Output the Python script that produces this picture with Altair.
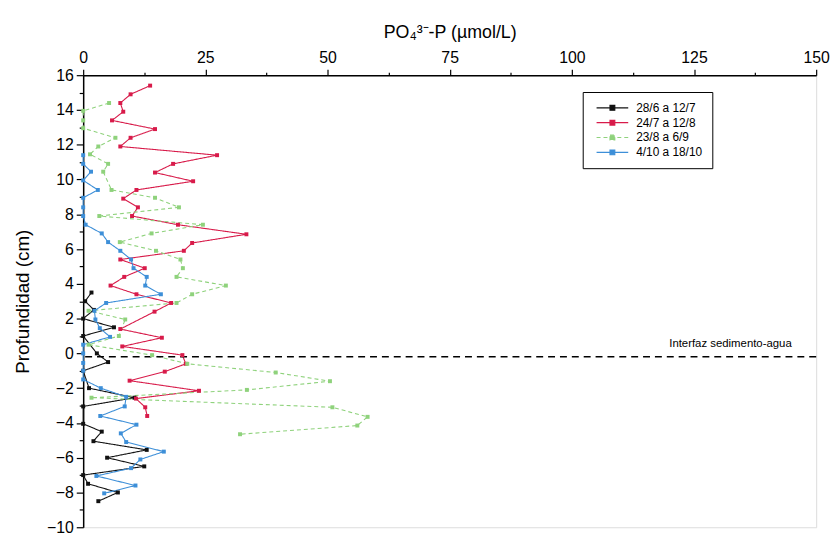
import altair as alt
import pandas as pd

# ---------------- data ----------------
series_names = ["28/6 a 12/7", "24/7 a 12/8", "23/8 a 6/9", "4/10 a 18/10"]
series_colors = ["#111111", "#d81b4a", "#8fd27c", "#3d8fd8"]

black_x = [1.7, 0.4, 2.2, 0.0, 6.3, 0.0, 2.8, 5.1, 0.0, 1.2, 10.5, 0.0, 0.0, 3.8,
           2.1, 13.0, 4.9, 12.5, 0.0, 1.0, 7.1, 3.1]
black_y = [3.5, 3.0, 2.5, 2.0, 1.5, 1.0, 0.0, -0.5, -1.0, -2.0, -2.55, -3.05, -4.05, -4.5,
           -5.05, -5.55, -6.0, -6.5, -7.0, -7.5, -8.0, -8.5]

red_x = [13.7, 9.7, 7.6, 8.2, 5.9, 14.7, 9.7, 7.6, 27.4, 18.4, 14.7, 22.5, 10.9, 8.2,
         11.2, 10.0, 19.4, 33.4, 22.3, 20.6, 7.6, 12.6, 8.4, 5.6, 10.9, 18.0, 14.6, 7.6,
         16.1, 8.0, 20.3, 21.0, 16.7, 9.5, 23.7, 10.8, 12.7, 13.1]
red_y = [15.4, 14.9, 14.4, 13.9, 13.4, 12.9, 12.4, 11.9, 11.4, 10.9, 10.4, 9.9, 9.4, 8.9,
         8.4, 7.9, 7.4, 6.85, 6.35, 5.9, 5.4, 4.9, 4.4, 3.9, 3.4, 2.9, 2.4, 1.4,
         0.9, 0.4, -0.1, -0.6, -1.05, -1.57, -2.15, -2.6, -3.1, -3.6]

green_x = [5.3, 0.0, 0.0, 0.0, 6.6, 3.1, 1.4, 5.1, 4.1, 5.8, 14.7, 19.6, 3.3, 24.5,
           14.0, 7.5, 14.9, 19.9, 20.4, 19.1, 29.2, 22.3, 19.1, 1.1, 8.6, 7.3, 1.1,
           14.1, 21.3, 39.4, 50.5, 33.5, 1.7, 51.0, 58.2, 56.1, 32.1]
green_y = [14.4, 13.95, 13.4, 12.95, 12.4, 11.9, 11.45, 10.9, 10.45, 9.4, 8.95, 8.4, 7.9, 7.4,
           6.9, 6.4, 5.9, 5.4, 4.9, 4.4, 3.9, 3.4, 2.9, 2.45, 1.95, 1.0, 0.5,
           -0.1, -0.6, -1.1, -1.6, -2.1, -2.55, -3.1, -3.65, -4.15, -4.65]

blue_x = [0.0, 0.0, 1.6, 0.0, 3.0, 0.0, 0.0, 0.0, 0.5, 3.8, 5.1, 7.6, 9.8, 10.3,
          13.0, 12.7, 15.9, 4.7, 2.3, 2.5, 3.4, 5.5, 0.0, 0.0, 0.0, 0.0, 0.0, 3.6,
          8.8, 8.5, 3.5, 10.9, 7.7, 8.8, 16.5, 11.7, 9.8, 2.7, 10.7, 4.3]
blue_y = [11.4, 10.9, 10.45, 9.95, 9.4, 8.95, 8.4, 7.9, 7.4, 6.9, 6.4, 5.9, 5.4, 4.9,
          4.4, 3.9, 3.4, 2.9, 2.45, 1.95, 1.45, 0.95, 0.5, 0.0, -0.55, -1.0, -1.5, -2.0,
          -2.5, -3.05, -3.6, -4.1, -4.6, -5.1, -5.65, -6.1, -6.6, -7.05, -7.6, -8.05]

x_ticks = [0, 12.5, 25, 37.5, 50, 62.5, 75, 87.5, 100, 112.5, 125, 137.5, 150]
y_ticks = list(range(-10, 17))

interface_depth = -0.2
interface_label = "Interfaz sedimento-agua"
interface_label_x = 145
interface_label_y = 0.55

# ---------------- build table ----------------
rows = []
for name, xs, ys in zip(series_names,
                        [black_x, red_x, green_x, blue_x],
                        [black_y, red_y, green_y, blue_y]):
    for i, (xv, yv) in enumerate(zip(xs, ys)):
        rows.append({"serie": name, "po4": xv, "prof": yv, "i": i})
df = pd.DataFrame(rows)

FONT = "Liberation Sans"

x_scale = alt.Scale(domain=[0, 150], nice=False, zero=False)
y_scale = alt.Scale(domain=[-10, 16], nice=False, zero=False)

x_axis = alt.Axis(
    orient="top", values=x_ticks, grid=False, labelOverlap=False,
    labelExpr="datum.value % 25 == 0 ? datum.label : ''",
    tickSize={"condition": {"test": "datum.value % 25 == 0", "value": 6}, "value": 3},
    title="PO₄³⁻-P (µmol/L)", titleFontSize=18, titleFont=FONT, titleFontWeight="normal",
    titlePadding=8, labelFontSize=16, labelFont=FONT, labelPadding=4, labelFlush=False,
    domainColor="black", domainWidth=1.5, tickColor="black", tickWidth=1.2,
    labelColor="black", titleColor="black")
y_axis = alt.Axis(
    values=y_ticks, grid=False, labelOverlap=False,
    labelExpr="datum.value % 2 == 0 ? datum.label : ''",
    tickSize={"condition": {"test": "datum.value % 2 == 0", "value": 7}, "value": 4},
    title="Profundidad (cm)", titleFontSize=19, titleFont=FONT, titleFontWeight="normal",
    titlePadding=14, labelFontSize=16, labelFont=FONT, labelPadding=3, labelFlush=False,
    domainColor="black", domainWidth=1.5, tickColor="black", tickWidth=1.2,
    labelColor="black", titleColor="black")

X = alt.X("po4:Q", scale=x_scale, axis=x_axis)
Y = alt.Y("prof:Q", scale=y_scale, axis=y_axis)

color_enc = alt.Color("serie:N", sort=series_names,
                      scale=alt.Scale(domain=series_names, range=series_colors),
                      legend=alt.Legend(
                          title=None, orient="none", legendX=505, legendY=17,
                          strokeColor="black", fillColor="white", padding=10,
                          symbolType="M-4,0H4M-0.6,-0.6H0.6V0.6H-0.6Z",
                          symbolSize=64, symbolStrokeWidth=1.2, symbolOffset=14,
                          labelOffset=18, labelFontSize=12, labelFont=FONT,
                          labelColor="black", rowPadding=3))

base = alt.Chart(df)

lines = base.mark_line(strokeWidth=1.1).encode(
    x=X, y=Y, color=color_enc, order="i:Q",
    strokeDash=alt.StrokeDash("serie:N", sort=series_names,
                              scale=alt.Scale(domain=series_names,
                                              range=[[1, 0], [1, 0], [4, 3], [1, 0]]),
                              legend=None))

points = base.mark_point(shape="square", filled=True, size=16, opacity=1).encode(
    x=X, y=Y, color=color_enc)

rule = alt.Chart(pd.DataFrame({"prof": [interface_depth]})).mark_rule(
    color="black", strokeDash=[7, 5], strokeWidth=1.5).encode(y=Y)

label = alt.Chart(pd.DataFrame({"po4": [interface_label_x], "prof": [interface_label_y],
                                "t": [interface_label]})).mark_text(
    align="right", baseline="middle", fontSize=11.5, font=FONT, color="black").encode(
    x=X, y=Y, text="t:N")

chart = alt.layer(lines, rule, points, label).properties(
    width=741, height=457,
    autosize=alt.AutoSizeParams(type="none"),
    padding={"left": 76, "top": 65, "right": 16, "bottom": 14},
).configure_view(stroke="#444444", strokeWidth=1).configure(background="white")

chart.save("out.html", embed_options={"renderer": "svg", "actions": False})
